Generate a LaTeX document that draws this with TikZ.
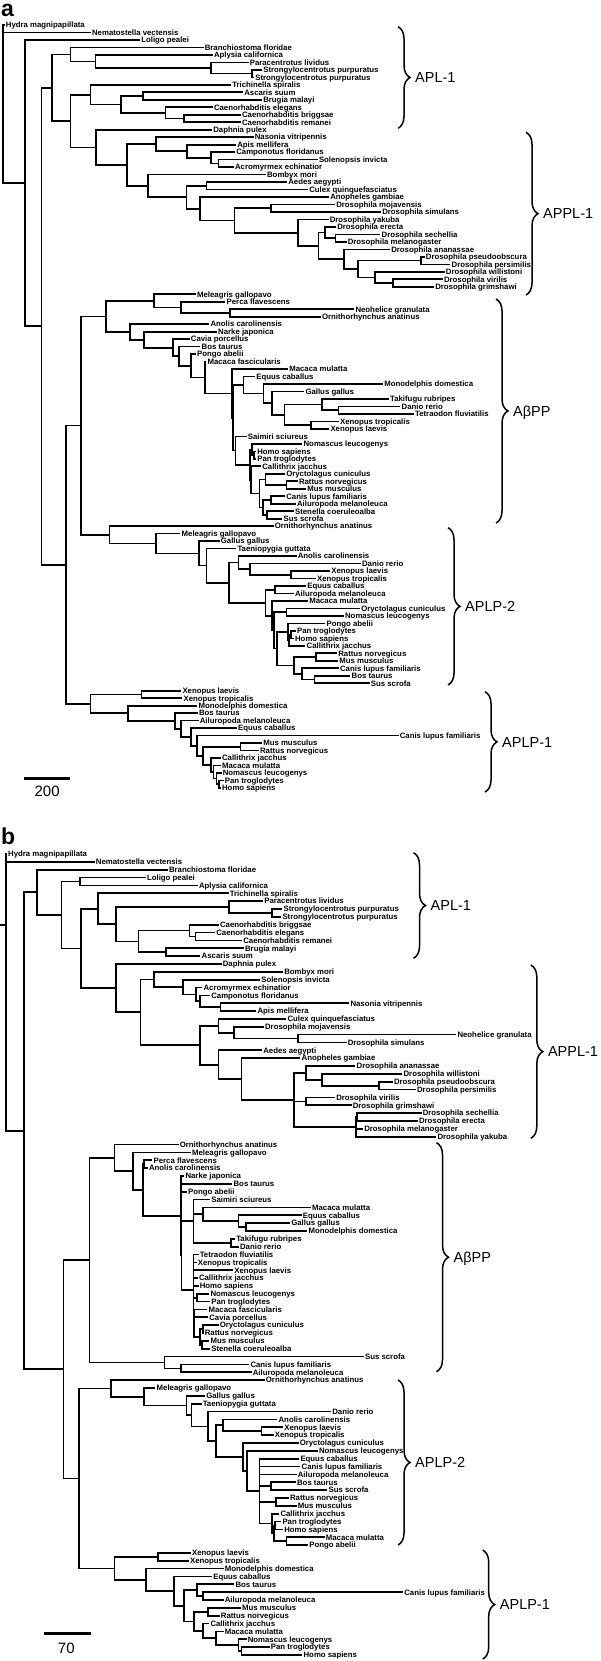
\documentclass[tikz,border=0pt]{standalone}
\usepackage{fontspec}
\setmainfont{Liberation Sans}
\usetikzlibrary{calc,decorations.pathreplacing}
\tikzset{
 leaf/.style={anchor=west, inner sep=0pt, outer sep=1.3pt, font=\fontsize{7.8}{8}\selectfont\bfseries, text height=5.6pt, text depth=0pt},
 br/.style={line width=1.7pt, line join=miter, line cap=butt},
 brc/.style={decorate, decoration={brace, amplitude=12pt}, line width=1.5pt},
 grp/.style={anchor=west, inner sep=0pt, font=\fontsize{14.5}{16}\selectfont, text height=10.4pt, text depth=0pt},
 sbar/.style={line width=3pt},
 snum/.style={inner sep=0pt, font=\fontsize{15}{16}\selectfont},
 pl/.style={anchor=base west, inner sep=0pt, font=\fontsize{23}{25}\selectfont\bfseries},
}
\newcommand\lfa[3]{\node[leaf] (a#1) at (#2,{25+(#1-1)*7.48}) {#3};}
\newcommand\lfb[3]{\node[leaf] (b#1) at (#2,{854+(#1-1)*7.853}) {#3};}
\newcommand\bn[4]{\path let \p1=(#3), \p2=(#4) in coordinate (#1) at (#2pt,{0.5*(\y1+\y2)});
 \draw[br] (#1) |- (#3) (#1) |- (#4);}
\newcommand\mn[5]{\path let \p1=(#3), \p2=(#4) in coordinate (#1) at (#2pt,{0.5*(\y1+\y2)});
 \foreach \ch in {#5}{\draw[br] (#1) |- (\ch);}}
\begin{document}
\begin{tikzpicture}[x=1pt,y=-1pt]
\useasboundingbox (0,0) rectangle (600,1661);
\fill[white] (0,0) rectangle (600,1661);
% ---------------- panel a ----------------
\node[pl] (la) at (1,16.5) {a};
\lfa{1}{4.6}{Hydra magnipapillata}
\lfa{2}{90.8}{Nematostella vectensis}
\lfa{3}{140}{Loligo pealei}
\lfa{4}{203.5}{Branchiostoma floridae}
\lfa{5}{212.7}{Aplysia californica}
\lfa{6}{248.5}{Paracentrotus lividus}
\lfa{7}{262}{Strongylocentrotus purpuratus}
\lfa{8}{254}{Strongylocentrotus purpuratus}
\lfa{9}{231}{Trichinella spiralis}
\lfa{10}{243}{Ascaris suum}
\lfa{11}{262}{Brugia malayi}
\lfa{12}{212.7}{Caenorhabditis elegans}
\lfa{13}{240.8}{Caenorhabditis briggsae}
\lfa{14}{240.8}{Caenorhabditis remanei}
\lfa{15}{212}{Daphnia pulex}
\lfa{16}{253.5}{Nasonia vitripennis}
\lfa{17}{236}{Apis mellifera}
\lfa{18}{235}{Camponotus floridanus}
\lfa{19}{317.7}{Solenopsis invicta}
\lfa{20}{233.8}{Acromyrmex echinatior}
\lfa{21}{265.8}{Bombyx mori}
\lfa{22}{287}{Aedes aegypti}
\lfa{23}{308}{Culex quinquefasciatus}
\lfa{24}{329}{Anopheles gambiae}
\lfa{25}{335}{Drosophila mojavensis}
\lfa{26}{381}{Drosophila simulans}
\lfa{27}{328.5}{Drosophila yakuba}
\lfa{28}{336}{Drosophila erecta}
\lfa{29}{380.4}{Drosophila sechellia}
\lfa{30}{346.5}{Drosophila melanogaster}
\lfa{31}{390}{Drosophila ananassae}
\lfa{32}{424.6}{Drosophila pseudoobscura}
\lfa{33}{450.4}{Drosophila persimilis}
\lfa{34}{444.6}{Drosophila willistoni}
\lfa{35}{442.7}{Drosophila virilis}
\lfa{36}{434}{Drosophila grimshawi}
\lfa{37}{195.8}{Meleagris gallopavo}
\lfa{38}{225.4}{Perca flavescens}
\lfa{39}{354.2}{Neohelice granulata}
\lfa{40}{320.8}{Ornithorhynchus anatinus}
\lfa{41}{209.2}{Anolis carolinensis}
\lfa{42}{216.9}{Narke japonica}
\lfa{43}{189.6}{Cavia porcellus}
\lfa{44}{200.4}{Bos taurus}
\lfa{45}{195.8}{Pongo abelii}
\lfa{46}{206.2}{Macaca fascicularis}
\lfa{47}{288}{Macaca mulatta}
\lfa{48}{255}{Equus caballus}
\lfa{49}{383}{Monodelphis domestica}
\lfa{50}{304.2}{Gallus gallus}
\lfa{51}{388.8}{Takifugu rubripes}
\lfa{52}{400.4}{Danio rerio}
\lfa{53}{413.8}{Tetraodon fluviatilis}
\lfa{54}{338.8}{Xenopus tropicalis}
\lfa{55}{329.2}{Xenopus laevis}
\lfa{56}{246.5}{Saimiri sciureus}
\lfa{57}{302.3}{Nomascus leucogenys}
\lfa{58}{256}{Homo sapiens}
\lfa{59}{256}{Pan troglodytes}
\lfa{60}{261}{Callithrix jacchus}
\lfa{61}{285}{Oryctolagus cuniculus}
\lfa{62}{297.7}{Rattus norvegicus}
\lfa{63}{306}{Mus musculus}
\lfa{64}{285}{Canis lupus familiaris}
\lfa{65}{295.8}{Ailuropoda melanoleuca}
\lfa{66}{293.8}{Stenella coeruleoalba}
\lfa{67}{282.3}{Sus scrofa}
\lfa{68}{273.5}{Ornithorhynchus anatinus}
\lfa{69}{180.4}{Meleagris gallopavo}
\lfa{70}{219.6}{Gallus gallus}
\lfa{71}{236.2}{Taeniopygia guttata}
\lfa{72}{296.5}{Anolis carolinensis}
\lfa{73}{360.8}{Danio rerio}
\lfa{74}{330}{Xenopus laevis}
\lfa{75}{315.8}{Xenopus tropicalis}
\lfa{76}{306}{Equus caballus}
\lfa{77}{293.8}{Ailuropoda melanoleuca}
\lfa{78}{308}{Macaca mulatta}
\lfa{79}{360}{Oryctolagus cuniculus}
\lfa{80}{343.8}{Nomascus leucogenys}
\lfa{81}{325.4}{Pongo abelii}
\lfa{82}{295.8}{Pan troglodytes}
\lfa{83}{293.8}{Homo sapiens}
\lfa{84}{305.4}{Callithrix jacchus}
\lfa{85}{337}{Rattus norvegicus}
\lfa{86}{338}{Mus musculus}
\lfa{87}{338.8}{Canis lupus familiaris}
\lfa{88}{350.4}{Bos taurus}
\lfa{89}{369.6}{Sus scrofa}
\lfa{90}{181.2}{Xenopus laevis}
\lfa{91}{182.3}{Xenopus tropicalis}
\lfa{92}{197.3}{Monodelphis domestica}
\lfa{93}{197.7}{Bos taurus}
\lfa{94}{198.5}{Ailuropoda melanoleuca}
\lfa{95}{236.9}{Equus caballus}
\lfa{96}{398.5}{Canis lupus familiaris}
\lfa{97}{262}{Mus musculus}
\lfa{98}{258.8}{Rattus norvegicus}
\lfa{99}{220.8}{Callithrix jacchus}
\lfa{100}{220.8}{Macaca mulatta}
\lfa{101}{221.5}{Nomascus leucogenys}
\lfa{102}{223.5}{Pan troglodytes}
\lfa{103}{220.8}{Homo sapiens}
% APL-1 part
\bn{aI}{252}{a7}{a8}
\bn{aH}{210.8}{a6}{aI}
\bn{aG}{95.4}{a5}{aH}
\bn{aE}{70.4}{a4}{aG}
\bn{aJ3}{143}{a10}{a11}
\bn{aJ5}{183.8}{a13}{a14}
\bn{aJ4}{165.4}{a12}{aJ5}
\bn{aJ2}{121}{aJ3}{aJ4}
\bn{aJ}{90.4}{a9}{aJ2}
% APPL-1 part
\bn{aQ}{218.5}{a19}{a20}
\bn{aP}{210.8}{a18}{aQ}
\bn{aO}{187.3}{a17}{aP}
\bn{aM}{155.8}{a16}{aO}
\bn{aS}{206.5}{a22}{a23}
\bn{aV}{271}{a25}{a26}
\bn{aZ}{335.4}{a29}{a30}
\bn{aY}{325}{a28}{aZ}
\bn{aAC}{421}{a32}{a33}
\bn{aAE}{393}{a35}{a36}
\bn{aAD}{375}{a34}{aAE}
\bn{aAB}{357.7}{aAC}{aAD}
\bn{aAA}{344}{a31}{aAB}
\bn{aX}{318.5}{aY}{aAA}
\bn{aW}{298}{a27}{aX}
\bn{aU}{234.6}{aV}{aW}
\bn{aT}{200}{a24}{aU}
\bn{aR}{186.5}{aS}{aT}
\bn{aN}{148}{a21}{aR}
\bn{aL}{127}{aM}{aN}
\bn{aK}{96}{a15}{aL}
\bn{aF}{70.4}{aJ}{aK}
\bn{aC}{52}{aE}{aF}
% ABPP part
\bn{aAB5}{230}{a39}{a40}
\bn{aAB4}{180.8}{a38}{aAB5}
\bn{aAB2}{153.8}{a37}{aAB4}
\bn{aN880}{338.5}{a52}{a53}
\bn{aN838}{322.3}{a51}{aN880}
\bn{aN808}{310.8}{a54}{a55}
\bn{aN740}{284.6}{aN838}{aN808}
\bn{aN708}{272.3}{a50}{aN740}
\bn{aN685}{263.5}{a49}{aN708}
\bn{aN633}{243.5}{a48}{aN685}
\bn{aHP}{253.8}{a58}{a59}
\bn{aX5}{252}{a57}{aHP}
\bn{aN745}{286.5}{a62}{a63}
\bn{aN690}{265.4}{a61}{aN745}
\bn{aN705}{271.2}{a64}{a65}
\bn{aN695}{267.3}{a66}{a67}
\bn{aN683}{262.7}{aN705}{aN695}
\bn{aX6}{259.6}{aN690}{aN683}
\bn{aX4b}{250.8}{a60}{aX6}
\bn{aX4}{250}{aX5}{aX4b}
\bn{aX3}{235.4}{a56}{aX4}
\bn{aX2}{232.7}{aN633}{aX3}
\bn{aAB11}{232}{a47}{aX2}
\bn{aAB10}{205}{a46}{aAB11}
\bn{aAB9}{191.2}{a45}{aAB10}
\bn{aAB8}{178.8}{a44}{aAB9}
\bn{aAB7}{173}{a43}{aAB8}
\bn{aAB6}{144.2}{a42}{aAB7}
\bn{aAB3}{130}{a41}{aAB6}
\bn{aAB1}{105.8}{aAB2}{aAB3}
% APLP-2 part
\bn{aP8}{291.2}{a74}{a75}
\bn{aP7}{250}{a73}{aP8}
\bn{aP5}{238.5}{a72}{aP7}
\bn{aP9}{275}{a76}{a77}
\bn{aP12}{286.5}{a79}{a80}
\bn{aPH}{291.2}{a82}{a83}
\bn{aP14b}{289.2}{aPH}{a84}
\bn{aP14}{287.7}{a81}{aP14b}
\bn{aP16}{316.2}{a85}{a86}
\bn{aP18}{314.6}{a88}{a89}
\bn{aP17}{302}{a87}{aP18}
\bn{aP15}{294.2}{aP16}{aP17}
\bn{aP13}{277}{aP14}{aP15}
\bn{aP10b}{273.8}{aP12}{aP13}
\bn{aP10}{272.3}{a78}{aP10b}
\bn{aP6}{265.4}{aP9}{aP10}
\bn{aP4}{228.8}{aP5}{aP6}
\bn{aP3}{206.5}{a71}{aP4}
\bn{aP2}{199.2}{a70}{aP3}
\bn{aP1}{155.8}{a69}{aP2}
\bn{aPL2}{109.6}{a68}{aP1}
\bn{aDA}{80.8}{aAB1}{aPL2}
% APLP-1 part
\bn{aQ2}{141.5}{a90}{a91}
\bn{aQ13}{219.2}{a102}{a103}
\bn{aQ12}{216.5}{a101}{aQ13}
\bn{aQ11}{213.5}{a100}{aQ12}
\bn{aQ10}{210.8}{a99}{aQ11}
\bn{aQ9}{240.4}{a97}{a98}
\bn{aQ8}{203}{aQ9}{aQ10}
\bn{aQ7}{197.3}{a96}{aQ8}
\bn{aQ6}{191.2}{a95}{aQ7}
\bn{aQ5}{180.8}{a94}{aQ6}
\bn{aQ4}{175}{a93}{aQ5}
\bn{aQ3}{127.7}{a92}{aQ4}
\bn{aQ1}{90.4}{aQ2}{aQ3}
\bn{aD}{66.2}{aDA}{aQ1}
\bn{aB}{41.5}{aC}{aD}
\bn{aA}{25}{a3}{aB}
\mn{aroot}{3.1}{a1}{aA}{a1,a2,aA}
% braces a
\coordinate (aT1) at (398,26.7);  \coordinate (aB1) at (398,128.3);
\coordinate (aT2) at (526,132.3); \coordinate (aB2) at (526,295);
\coordinate (aT3) at (496,299);   \coordinate (aB3) at (496,523);
\coordinate (aT4) at (448,527.7); \coordinate (aB4) at (448,685);
\coordinate (aT5) at (485,691.7); \coordinate (aB5) at (485,792);
\draw[brc] (aT1) -- (aB1);
\draw[brc] (aT2) -- (aB2);
\draw[brc] (aT3) -- (aB3);
\draw[brc] (aT4) -- (aB4);
\draw[brc] (aT5) -- (aB5);
\node[grp] (agA) at (415,77.5) {APL-1};
\node[grp] (agB) at (543,213.6) {APPL-1};
\node[grp] (agC) at (513,411) {AβPP};
\node[grp] (agD) at (465,606.3) {APLP-2};
\node[grp] (agE) at (502,741.8) {APLP-1};
% scale a
\coordinate (sa1) at (23.8,778); \coordinate (sa2) at (70.4,778);
\draw[sbar] (sa1) -- (sa2);
\node[snum] (san) at (47.1,791.5) {200};
% ---------------- panel b ----------------
\node[pl] (lb) at (1,844) {b};
\lfb{1}{6.9}{Hydra magnipapillata}
\lfb{2}{94.6}{Nematostella vectensis}
\lfb{3}{167.7}{Branchiostoma floridae}
\lfb{4}{145.8}{Loligo pealei}
\lfb{5}{197.7}{Aplysia californica}
\lfb{6}{228.5}{Trichinella spiralis}
\lfb{7}{263}{Paracentrotus lividus}
\lfb{8}{282.3}{Strongylocentrotus purpuratus}
\lfb{9}{281.2}{Strongylocentrotus purpuratus}
\lfb{10}{218.8}{Caenorhabditis briggsae}
\lfb{11}{215}{Caenorhabditis elegans}
\lfb{12}{242}{Caenorhabditis remanei}
\lfb{13}{243.8}{Brugia malayi}
\lfb{14}{200.4}{Ascaris suum}
\lfb{15}{221.5}{Daphnia pulex}
\lfb{16}{283}{Bombyx mori}
\lfb{17}{260}{Solenopsis invicta}
\lfb{18}{202.3}{Acromyrmex echinatior}
\lfb{19}{210}{Camponotus floridanus}
\lfb{20}{349.2}{Nasonia vitripennis}
\lfb{21}{256.2}{Apis mellifera}
\lfb{22}{286.2}{Culex quinquefasciatus}
\lfb{23}{263.8}{Drosophila mojavensis}
\lfb{24}{456.2}{Neohelice granulata}
\lfb{25}{346.5}{Drosophila simulans}
\lfb{26}{262}{Aedes aegypti}
\lfb{27}{300.4}{Anopheles gambiae}
\lfb{28}{355.4}{Drosophila ananassae}
\lfb{29}{402.3}{Drosophila willistoni}
\lfb{30}{392.7}{Drosophila pseudoobscura}
\lfb{31}{415.8}{Drosophila persimilis}
\lfb{32}{335}{Drosophila virilis}
\lfb{33}{351.5}{Drosophila grimshawi}
\lfb{34}{421.5}{Drosophila sechellia}
\lfb{35}{417.7}{Drosophila erecta}
\lfb{36}{363}{Drosophila melanogaster}
\lfb{37}{436.2}{Drosophila yakuba}
\lfb{38}{178.5}{Ornithorhynchus anatinus}
\lfb{39}{190.8}{Meleagris gallopavo}
\lfb{40}{152.3}{Perca flavescens}
\lfb{41}{147.7}{Anolis carolinensis}
\lfb{42}{184.2}{Narke japonica}
\lfb{43}{232.3}{Bos taurus}
\lfb{44}{186.9}{Pongo abelii}
\lfb{45}{210}{Saimiri sciureus}
\lfb{46}{310.8}{Macaca mulatta}
\lfb{47}{301.5}{Equus caballus}
\lfb{48}{290}{Gallus gallus}
\lfb{49}{307.3}{Monodelphis domestica}
\lfb{50}{235}{Takifugu rubripes}
\lfb{51}{238.8}{Danio rerio}
\lfb{52}{198.5}{Tetraodon fluviatilis}
\lfb{53}{196.5}{Xenopus tropicalis}
\lfb{54}{233}{Xenopus laevis}
\lfb{55}{197.7}{Callithrix jacchus}
\lfb{56}{198.5}{Homo sapiens}
\lfb{57}{209.2}{Nomascus leucogenys}
\lfb{58}{210}{Pan troglodytes}
\lfb{59}{207.3}{Macaca fascicularis}
\lfb{60}{208}{Cavia porcellus}
\lfb{61}{218.5}{Oryctolagus cuniculus}
\lfb{62}{203.5}{Rattus norvegicus}
\lfb{63}{209.2}{Mus musculus}
\lfb{64}{210}{Stenella coeruleoalba}
\lfb{65}{363.8}{Sus scrofa}
\lfb{66}{249.2}{Canis lupus familiaris}
\lfb{67}{251.5}{Ailuropoda melanoleuca}
\lfb{68}{264.6}{Ornithorhynchus anatinus}
\lfb{69}{155.4}{Meleagris gallopavo}
\lfb{70}{205}{Gallus gallus}
\lfb{71}{201.5}{Taeniopygia guttata}
\lfb{72}{331}{Danio rerio}
\lfb{73}{277.3}{Anolis carolinensis}
\lfb{74}{283}{Xenopus laevis}
\lfb{75}{273.5}{Xenopus tropicalis}
\lfb{76}{298.5}{Oryctolagus cuniculus}
\lfb{77}{317.7}{Nomascus leucogenys}
\lfb{78}{299.2}{Equus caballus}
\lfb{79}{300.4}{Canis lupus familiaris}
\lfb{80}{296.5}{Ailuropoda melanoleuca}
\lfb{81}{295.8}{Bos taurus}
\lfb{82}{327.3}{Sus scrofa}
\lfb{83}{288.8}{Rattus norvegicus}
\lfb{84}{296.5}{Mus musculus}
\lfb{85}{279.2}{Callithrix jacchus}
\lfb{86}{281.2}{Pan troglodytes}
\lfb{87}{283}{Homo sapiens}
\lfb{88}{324.6}{Macaca mulatta}
\lfb{89}{308}{Pongo abelii}
\lfb{90}{190.8}{Xenopus laevis}
\lfb{91}{188.8}{Xenopus tropicalis}
\lfb{92}{223.5}{Monodelphis domestica}
\lfb{93}{212}{Equus caballus}
\lfb{94}{234.2}{Bos taurus}
\lfb{95}{403}{Canis lupus familiaris}
\lfb{96}{223.5}{Ailuropoda melanoleuca}
\lfb{97}{240.8}{Mus musculus}
\lfb{98}{219.6}{Rattus norvegicus}
\lfb{99}{209.2}{Callithrix jacchus}
\lfb{100}{223.5}{Macaca mulatta}
\lfb{101}{246.5}{Nomascus leucogenys}
\lfb{102}{269.6}{Pan troglodytes}
\lfb{103}{302.3}{Homo sapiens}
% APL-1 part b
\bn{bI}{272.3}{b8}{b9}
\bn{bH}{228.8}{b7}{bI}
\bn{bJ3}{195.4}{b11}{b12}
\bn{bJ2}{189.6}{b10}{bJ3}
\bn{bJ4}{166.2}{b13}{b14}
\bn{bJ}{138.5}{bJ2}{bJ4}
\bn{bG}{116.2}{bH}{bJ}
\bn{bF}{98}{b6}{bG}
\bn{bD}{80}{b4}{b5}
% APPL-1 part b
\bn{bR}{220.4}{b20}{b21}
\bn{bP2}{200}{b19}{bR}
\bn{bP}{196.2}{b18}{bP2}
\bn{bO}{182.7}{b17}{bP}
\bn{bM}{153.8}{b16}{bO}
\bn{bN5}{298}{b24}{b25}
\bn{bN2}{233.8}{b23}{bN5}
\bn{bN1}{218.5}{b22}{bN2}
\bn{bN10}{378.8}{b30}{b31}
\bn{bN8}{322.3}{b29}{bN10}
\bn{bN7}{305.8}{b28}{bN8}
\bn{bN14}{305.8}{b32}{b33}
\bn{bN12}{357}{b34}{b35}
\mn{bN11}{355.8}{bN12}{b37}{bN12,b36,b37}
\mn{bN6}{294.2}{bN7}{bN11}{bN7,bN14,bN11}
\bn{bN4}{241.5}{b27}{bN6}
\bn{bN3}{218.5}{b26}{bN4}
\bn{bN}{200}{bN1}{bN3}
\bn{bL}{140.4}{bM}{bN}
\bn{bK}{116.2}{b15}{bL}
\bn{bE}{80.8}{bF}{bK}
\bn{bC}{61.5}{bD}{bE}
\bn{bB}{37.3}{b3}{bC}
% ABPP part b
\bn{bAB6}{144.2}{b40}{b41}
\bn{bAB13}{246.2}{b48}{b49}
\bn{bAB12}{238.5}{b47}{bAB13}
\bn{bAB10}{203}{b46}{bAB12}
\bn{bAB11}{230.8}{b50}{b51}
\mn{bAB8}{193.5}{b45}{bAB11}{b45,bAB10,bAB11}
\bn{bAB14}{197.3}{b57}{b58}
\bn{bAB15}{194.2}{b59}{b60}
\bn{bAB17}{202.7}{b61}{b62}
\bn{bAB18}{202}{b63}{b64}
\bn{bAB16}{200}{bAB17}{bAB18}
\bn{bAB9c}{193.8}{bAB15}{bAB16}
\mn{bAB9}{193.5}{b52}{bAB9c}{b52,b53,b54,b55,b56,bAB14,bAB9c}
\bn{bAB7b}{181.5}{bAB8}{bAB9}
\mn{bAB7}{180.8}{b42}{bAB7b}{b42,b43,b44,bAB7b}
\bn{bAB5}{143}{bAB6}{bAB7}
\bn{bAB4}{132.7}{b39}{bAB5}
\bn{bAB1}{114.6}{b38}{bAB4}
\bn{bAB3}{180.8}{b66}{b67}
\bn{bAB2}{164.6}{b65}{bAB3}
\bn{bAB}{89.6}{bAB1}{bAB2}
% APLP-2 part b
\bn{bQ7}{261.5}{b74}{b75}
\bn{bQ6}{223}{b73}{bQ7}
\bn{bQ11}{271.2}{b81}{b82}
\bn{bQ12}{276.2}{b83}{b84}
\bn{bQ14}{275}{b86}{b87}
\bn{bQ15}{286.5}{b88}{b89}
\bn{bQ13b}{273.8}{bQ14}{bQ15}
\bn{bQ13}{272.3}{b85}{bQ13b}
\mn{bQ10}{259.6}{b78}{bQ13}{b78,b79,b80,bQ11,bQ12,bQ13}
\bn{bQ9}{247}{b77}{bQ10}
\bn{bQ8}{243}{b76}{bQ9}
\bn{bQ5}{216.2}{bQ6}{bQ8}
\bn{bQ4}{207.7}{b72}{bQ5}
\bn{bQ3}{191.5}{b71}{bQ4}
\bn{bQ2}{186.5}{b70}{bQ3}
\bn{bQ1}{144.2}{b69}{bQ2}
\bn{bPLP2}{110.8}{b68}{bQ1}
% APLP-1 part b
\bn{bR1}{157.7}{b90}{b91}
\bn{bR6}{203}{b95}{b96}
\bn{bR5}{197.3}{b94}{bR6}
\bn{bR8}{207.7}{b97}{b98}
\bn{bR12}{241.5}{b102}{b103}
\bn{bR11}{238.5}{b101}{bR12}
\bn{bR10}{216.2}{b100}{bR11}
\bn{bR9}{203}{b99}{bR10}
\bn{bR7}{194.2}{bR8}{bR9}
\bn{bR4}{183.8}{bR5}{bR7}
\bn{bR3}{173.8}{b93}{bR4}
\bn{bR2}{146.2}{b92}{bR3}
\bn{bPLP1}{114.6}{bR1}{bR2}
\bn{bPL}{78.8}{bPLP2}{bPLP1}
\bn{bV}{63.5}{bAB}{bPL}
\bn{bA}{23.8}{bB}{bV}
\coordinate (broot) at (5.8,925);
\coordinate (bstem) at (0,925);
\foreach \ch in {b1,b2,bA}{\draw[br] (broot) |- (\ch);}
\draw[br] (bstem) -- (broot);
% braces b
\coordinate (bT1) at (413.5,852.7); \coordinate (bB1) at (413.5,958.3);
\coordinate (bT2) at (530.8,965);   \coordinate (bB2) at (530.8,1138.3);
\coordinate (bT3) at (436.5,1142.7);\coordinate (bB3) at (436.5,1371.7);
\coordinate (bT4) at (398,1380);    \coordinate (bB4) at (398,1545);
\coordinate (bT5) at (482.7,1550);  \coordinate (bB5) at (482.7,1659);
\draw[brc] (bT1) -- (bB1);
\draw[brc] (bT2) -- (bB2);
\draw[brc] (bT3) -- (bB3);
\draw[brc] (bT4) -- (bB4);
\draw[brc] (bT5) -- (bB5);
\node[grp] (bgA) at (430.5,905.5) {APL-1};
\node[grp] (bgB) at (547.8,1051.6) {APPL-1};
\node[grp] (bgC) at (453.5,1257.2) {AβPP};
\node[grp] (bgD) at (415,1462.5) {APLP-2};
\node[grp] (bgE) at (499.7,1604.5) {APLP-1};
% scale b
\coordinate (sb1) at (44.2,1633); \coordinate (sb2) at (91.2,1633);
\draw[sbar] (sb1) -- (sb2);
\node[snum] (sbn) at (66.3,1648.5) {70};
\end{tikzpicture}
\end{document}
